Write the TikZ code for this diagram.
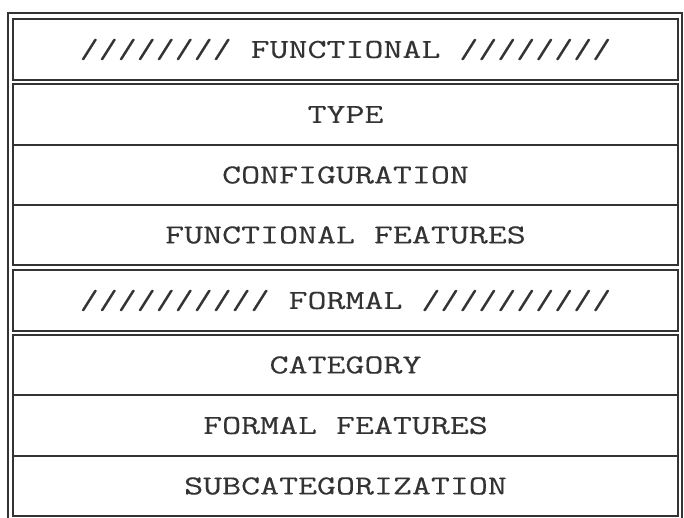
\documentclass[tikz,border=0pt]{standalone}
\usepackage{fontspec}
\newfontfamily\typefont{Latin Modern Mono}[FakeStretch=1.34,FakeBold=0.3]
\definecolor{ink}{HTML}{333333}
\begin{document}
\begin{tikzpicture}[x=1pt,y=-1pt,
  row/.style={draw=ink, line width=1.6pt, minimum width=665pt, inner sep=0pt,
    text=ink, font=\typefont\fontsize{27.5}{30}\selectfont, text height=16.8pt, text depth=0pt},
  frame/.style={draw=ink, line width=1.8pt}]
\useasboundingbox (0,0) rectangle (684,517);
\clip (0,0) rectangle (684,517);
\draw[frame] (8,13) rectangle (682,540);
\node[row, minimum height=61pt] (func) at (345.5,49.5) {//////// FUNCTIONAL ////////};
\node[row, minimum height=61pt] (type) at (345.5,114.5) {TYPE};
\node[row, minimum height=60pt] (conf) at (345.5,175) {CONFIGURATION};
\node[row, minimum height=60pt] (ffeat) at (345.5,235) {FUNCTIONAL FEATURES};
\node[row, minimum height=61pt] (formal) at (345.5,300.5) {////////// FORMAL //////////};
\node[row, minimum height=60pt] (cat) at (345.5,365) {CATEGORY};
\node[row, minimum height=61pt] (fofeat) at (345.5,425.5) {FORMAL FEATURES};
\node[row, minimum height=60pt] (subcat) at (345.5,486) {SUBCATEGORIZATION};
\end{tikzpicture}
\end{document}
